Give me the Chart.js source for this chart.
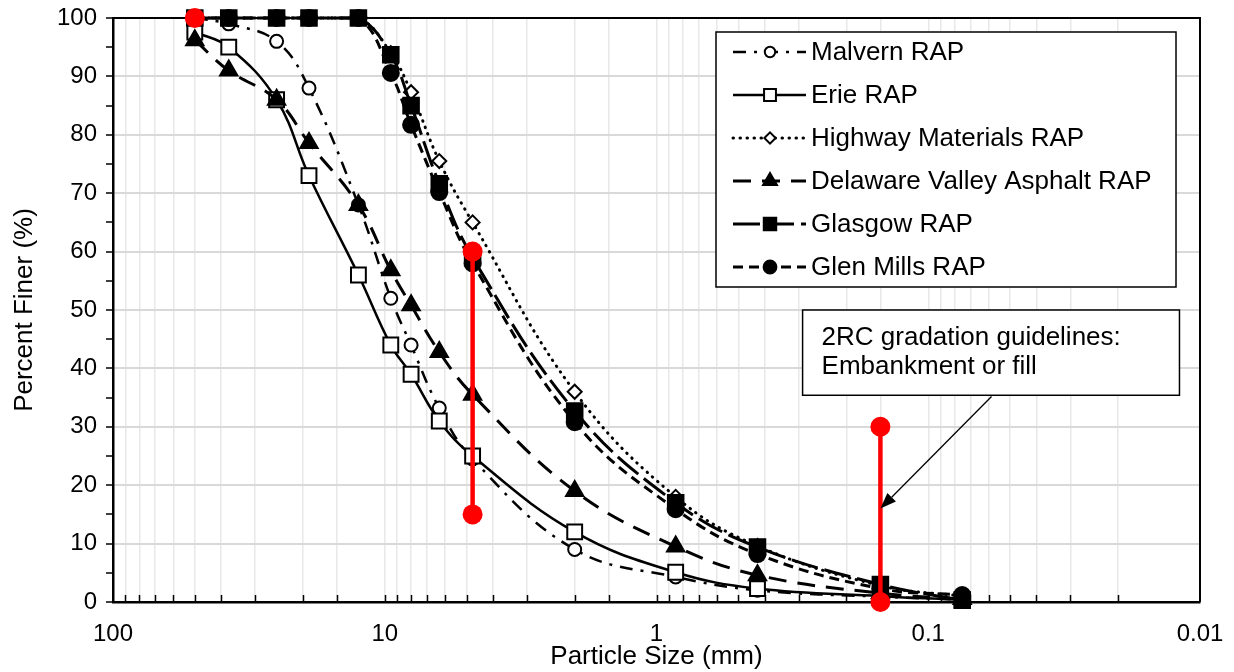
<!DOCTYPE html>
<html lang="en">
<head>
<meta charset="UTF-8">
<title>RAP Gradation Curves</title>
<script src="https://cdn.jsdelivr.net/npm/chart.js"></script>
<style>
    html, body { margin: 0; padding: 0; background: #fff; }
    canvas { display: block; }
</style>
</head>
<body>
<canvas id="gradation-chart" width="1234" height="672"></canvas>
<script>
// sieve openings, mm
const sieveSizes = [50, 37.5, 25, 19, 12.5, 9.5, 8, 6.3, 4.75, 2.0, 0.85, 0.425, 0.15, 0.075];

// percent passing per source
const malvern   = [100, 99, 96, 88, 68, 52, 44, 33.2, 24.5, 9, 4.3, 2, 0.9, 0.4];
const erie      = [97.6, 95, 86, 73, 56, 44, 39, 31, 25, 12, 5.1, 2.3, 1, 0.4];
const highway   = [100, 100, 100, 100, 100, 94, 87.3, 75.5, 65, 36, 18, 9.6, 2.8, 1];
const delaware  = [96.2, 91, 86, 78.6, 68, 56.8, 50.8, 42.8, 35.5, 19, 9.5, 4.6, 1.5, 0.5];
const glasgow   = [100, 100, 100, 100, 100, 93.7, 85, 71.6, 59, 32.7, 17, 9.4, 3, 0.3];
const glenMills = [100, 100, 100, 100, 100, 90.6, 81.7, 70.2, 58, 30.8, 15.9, 8.2, 2.3, 1.2];

// 2RC embankment / fill limits (top point, then two vertical bands)
const limitSizes   = [50, 4.75, 4.75, 0.15, 0.15];
const limitPassing = [100, 60, 15, 30, 0];

// axis ticks
const xTickLabels = [100, 10, 1, 0.1, 0.01];
const yTickLabels = [0, 10, 20, 30, 40, 50, 60, 70, 80, 90, 100];

const FONT = '"Liberation Sans", Arial, sans-serif';
Chart.defaults.font.family = FONT;
Chart.defaults.color = '#000';

function points(sizes, values) {
    return sizes.map((s, i) => ({ x: s, y: values[i] }));
}

function series(label, values, style) {
    return Object.assign({
        label: label,
        data: points(sieveSizes, values),
        showLine: true,
        tension: 0.4,
        borderColor: '#000',
        borderWidth: 2.5,
        pointBorderColor: '#000',
        pointBorderWidth: 2,
        pointHoverRadius: 0,
        clip: false
    }, style);
}

// lower order is painted later, so later sources end up on top
const datasets = [
    series('Malvern RAP', malvern, {
        order: 6,
        borderDash: [13, 8, 3, 8],
        pointStyle: 'circle', pointRadius: 6.5, pointBackgroundColor: '#fff'
    }),
    series('Erie RAP', erie, {
        order: 5,
        pointStyle: 'rect', pointRadius: 10.5, pointBackgroundColor: '#fff'
    }),
    series('Highway Materials RAP', highway, {
        order: 4,
        borderDash: [0.5, 6.5], borderCapStyle: 'round', borderWidth: 3,
        pointStyle: 'rectRot', pointRadius: 7, pointBackgroundColor: '#fff'
    }),
    series('Delaware Valley Asphalt RAP', delaware, {
        order: 3,
        borderDash: [18, 11], borderWidth: 3,
        pointStyle: 'triangle', pointRadius: 10, pointBackgroundColor: '#000'
    }),
    series('Glasgow RAP', glasgow, {
        order: 2,
        borderDash: [27, 7], borderWidth: 3,
        pointStyle: 'rect', pointRadius: 11, pointBackgroundColor: '#000'
    }),
    series('Glen Mills RAP', glenMills, {
        order: 1,
        borderDash: [10, 6], borderWidth: 3,
        pointStyle: 'circle', pointRadius: 8, pointBackgroundColor: '#000'
    }),
    {
        label: '2RC',
        inLegend: false,
        data: points(limitSizes, limitPassing),
        showLine: true,
        tension: 0,
        order: 0,
        clip: false,
        borderColor: '#ff0000',
        borderWidth: 4.5,
        // only the vertical bands are drawn
        segment: {
            borderColor: c => c.p0.parsed.x === c.p1.parsed.x ? '#ff0000' : 'rgba(0,0,0,0)'
        },
        pointStyle: 'circle',
        pointRadius: 10,
        pointHoverRadius: 0,
        pointBackgroundColor: '#ff0000',
        pointBorderColor: '#ff0000',
        pointBorderWidth: 0
    }
];

function xLabelFor(v) {
    return xTickLabels.find(d => Math.abs(d - v) < d * 1e-6);
}

// frame on top/right plus small inward ticks on the x axis
const framePlugin = {
    id: 'frame',
    beforeDatasetsDraw(chart) {
        const { ctx, chartArea: a, scales: { x } } = chart;
        ctx.save();
        ctx.strokeStyle = '#000';
        ctx.lineWidth = 2;
        ctx.beginPath();
        ctx.moveTo(a.left, a.top);
        ctx.lineTo(a.right, a.top);
        ctx.lineTo(a.right, a.bottom);
        ctx.stroke();
        ctx.lineWidth = 1.5;
        ctx.beginPath();
        x.ticks.forEach(t => {
            const px = Math.round(x.getPixelForValue(t.value)) + 0.5;
            if (px < a.left + 2 || px > a.right - 2) return;
            ctx.moveTo(px, a.bottom);
            ctx.lineTo(px, a.bottom - 7);
        });
        ctx.stroke();
        ctx.restore();
    }
};

const legendBox = { right: 24, top: 14, width: 460, height: 255, firstRow: 20, rowGap: 43,
                    lineFrom: 17, lineTo: 90, mark: 54, text: 95 };

function drawMark(ctx, ds, x, y, scale) {
    ctx.save();
    ctx.setLineDash([]);
    ctx.fillStyle = ds.pointBackgroundColor;
    ctx.strokeStyle = ds.pointBorderColor;
    ctx.lineWidth = ds.pointBorderWidth;
    Chart.helpers.drawPoint(ctx, {
        pointStyle: ds.pointStyle,
        radius: ds.pointRadius * scale,
        rotation: 0,
        borderWidth: ds.pointBorderWidth
    }, x, y);
    ctx.restore();
}

const boxLegendPlugin = {
    id: 'boxLegend',
    afterDatasetsDraw(chart) {
        const { ctx, chartArea: a } = chart;
        const left = a.right - legendBox.right - legendBox.width;
        const top = a.top + legendBox.top;
        ctx.save();
        ctx.fillStyle = '#fff';
        ctx.fillRect(left, top, legendBox.width, legendBox.height);
        ctx.strokeStyle = '#000';
        ctx.lineWidth = 1.5;
        ctx.strokeRect(left, top, legendBox.width, legendBox.height);
        ctx.font = '26px ' + FONT;
        ctx.textBaseline = 'middle';
        let row = 0;
        chart.data.datasets.forEach(ds => {
            if (ds.inLegend === false) return;
            const y = top + legendBox.firstRow + row * legendBox.rowGap;
            ctx.strokeStyle = '#000';
            ctx.lineWidth = ds.borderWidth;
            ctx.lineCap = ds.borderCapStyle || 'butt';
            ctx.setLineDash(ds.borderDash || []);
            ctx.beginPath();
            ctx.moveTo(left + legendBox.lineFrom, y);
            ctx.lineTo(left + legendBox.lineTo, y);
            ctx.stroke();
            drawMark(ctx, ds, left + legendBox.mark, y, 0.8);
            ctx.fillStyle = '#000';
            ctx.fillText(ds.label, left + legendBox.text, y + 1);
            row++;
        });
        ctx.restore();
    }
};

// callout box with an arrow pointing at the 0.15 mm limit band
const note = {
    lines: ['2RC gradation guidelines:', 'Embankment or fill'],
    box: { x0: 0.29, x1: 0.0119, y0: 50, y1: 35.4 },
    from: { x: 0.0585, y: 35.2 },
    to: { x: 0.15, y: 16 }
};

const notePlugin = {
    id: 'note',
    afterDatasetsDraw(chart) {
        const { ctx, scales: { x, y } } = chart;
        const l = x.getPixelForValue(note.box.x0), r = x.getPixelForValue(note.box.x1);
        const t = y.getPixelForValue(note.box.y0), b = y.getPixelForValue(note.box.y1);
        ctx.save();
        ctx.fillStyle = '#fff';
        ctx.fillRect(l, t, r - l, b - t);
        ctx.strokeStyle = '#000';
        ctx.lineWidth = 1.5;
        ctx.strokeRect(l, t, r - l, b - t);
        ctx.fillStyle = '#000';
        ctx.font = '26px ' + FONT;
        ctx.textBaseline = 'middle';
        note.lines.forEach((s, i) => ctx.fillText(s, l + 19, t + 28 + i * 29));

        const x1 = x.getPixelForValue(note.from.x), y1 = y.getPixelForValue(note.from.y);
        const x2 = x.getPixelForValue(note.to.x), y2 = y.getPixelForValue(note.to.y);
        const ang = Math.atan2(y2 - y1, x2 - x1);
        const head = 16, half = 6;
        ctx.lineWidth = 1.3;
        ctx.beginPath();
        ctx.moveTo(x1, y1);
        ctx.lineTo(x2 - Math.cos(ang) * head, y2 - Math.sin(ang) * head);
        ctx.stroke();
        ctx.beginPath();
        ctx.moveTo(x2, y2);
        ctx.lineTo(x2 - Math.cos(ang) * head - Math.sin(ang) * half, y2 - Math.sin(ang) * head + Math.cos(ang) * half);
        ctx.lineTo(x2 - Math.cos(ang) * head + Math.sin(ang) * half, y2 - Math.sin(ang) * head - Math.cos(ang) * half);
        ctx.closePath();
        ctx.fill();
        ctx.restore();
    }
};

new Chart(document.getElementById('gradation-chart').getContext('2d'), {
    type: 'scatter',
    data: { datasets: datasets },
    plugins: [framePlugin, boxLegendPlugin, notePlugin],
    options: {
        responsive: false,
        animation: false,
        devicePixelRatio: 1,
        layout: { padding: { top: 18, right: 34, left: 0, bottom: 0 } },
        plugins: {
            legend: { display: false },
            tooltip: { enabled: false }
        },
        elements: { line: { capBezierPoints: true } },
        scales: {
            x: {
                type: 'logarithmic',
                reverse: true,
                min: 0.01,
                max: 100,
                // fixed band height; end labels fit in the margins already
                afterFit: s => { s.height = 70; s.paddingLeft = 0; s.paddingRight = 0; },
                grid: { color: '#e8e8e8', lineWidth: 1.5, drawTicks: false },
                border: { color: '#000', width: 2.5 },
                ticks: {
                    autoSkip: false,
                    maxRotation: 0,
                    padding: 18,
                    font: { size: 24 },
                    callback: v => {
                        const d = xLabelFor(v);
                        return d === undefined ? '' : String(d);
                    }
                },
                title: { display: true, text: 'Particle Size (mm)', font: { size: 26 }, padding: 0 }
            },
            y: {
                min: 0,
                max: 100,
                afterFit: s => { s.width = 113; s.paddingTop = 0; s.paddingBottom = 0; },
                grid: {
                    color: c => yTickLabels.includes(c.tick.value) ? '#d9d9d9' : 'rgba(0,0,0,0)',
                    lineWidth: 2,
                    tickLength: 7,
                    tickColor: '#000',
                    tickWidth: 1.5
                },
                border: { color: '#000', width: 2.5 },
                ticks: {
                    stepSize: 5,
                    autoSkip: false,
                    padding: 9,
                    font: { size: 24 },
                    callback: v => yTickLabels.includes(v) ? String(v) : ''
                },
                title: { display: true, text: 'Percent Finer (%)', font: { size: 26 }, padding: { top: 9, bottom: 0 } }
            }
        }
    }
});
</script>
</body>
</html>
